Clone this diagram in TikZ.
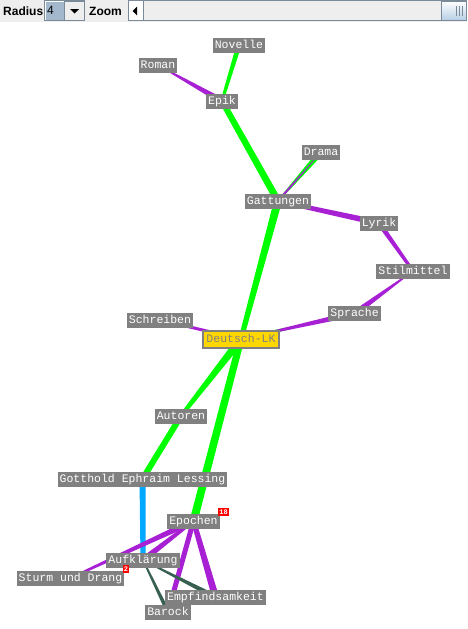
\documentclass[tikz,border=0pt]{standalone}
\usepackage{fontspec}
\usepackage{tikz}
\usetikzlibrary{calc,backgrounds}
\newfontfamily\labelfont{Liberation Mono}
\newfontfamily\uifont{Liberation Sans}
\definecolor{nodegray}{RGB}{128,128,128}
\definecolor{linkgreen}{RGB}{0,255,0}
\definecolor{linkpurple}{RGB}{168,32,212}
\definecolor{linkblue}{RGB}{0,168,255}
\definecolor{linkdark}{RGB}{56,96,80}
\definecolor{focusyellow}{RGB}{255,215,0}
\definecolor{barbg}{RGB}{238,238,238}
\definecolor{barline}{RGB}{122,138,153}
\definecolor{fieldblue}{RGB}{163,184,204}
\definecolor{thumbblue}{RGB}{184,207,229}

% tapered link: from, to, half width at from, half width at to, colour
\newcommand{\taper}[5]{%
  \fill[#5] ($(#1)!#3!90:(#2)$) -- ($(#2)!#4!-90:(#1)$) -- ($(#2)!#4!90:(#1)$) -- ($(#1)!#3!-90:(#2)$) -- cycle;}

\begin{document}
\begin{tikzpicture}[x=1pt, y=-1pt,
    topic/.style={fill=nodegray, text=white, font=\labelfont\fontsize{11.5}{12}\selectfont,
      inner xsep=2pt, inner ysep=2pt, text height=8.5pt, text depth=2.5pt},
    focus/.style={topic, fill=focusyellow, draw=nodegray, line width=2pt, text=nodegray, inner sep=3pt},
    hitbadge/.style={fill=red, text=white, font=\labelfont\bfseries\fontsize{7}{7}\selectfont,
      inner sep=1pt, minimum height=8pt},
    barfont/.style={font=\uifont\bfseries\fontsize{12}{14}\selectfont, anchor=west, inner sep=0pt}]
    \useasboundingbox (0,0) rectangle (467,629);

    % toolbar
    \fill[barbg] (0,0) rectangle (467,22);
    \node[barfont] (radiuslabel) at (3,11) {Radius};
    \draw[barline, fill=white] (44.5,0.5) rectangle (84.5,20.5);
    \fill[fieldblue] (45.5,1.5) rectangle (64.5,19.5);
    \node[barfont, font=\uifont\fontsize{12}{14}\selectfont] (radiusvalue) at (47,10.5) {4};
    \draw[barline, fill=barbg] (64.5,1) rectangle (84,20);
    \fill (70,9) -- (79,9) -- (74.5,13.5) -- cycle;
    \node[barfont] (zoomlabel) at (89,11) {Zoom};
    \draw[barline, fill=barbg] (128.5,0.5) rectangle (466.5,20.5);
    \draw[barline, fill=white] (128.5,0.5) rectangle (143,20.5);
    \fill (132.5,11) -- (137,6.5) -- (137,15.5) -- cycle;
    \draw[barline, top color=white, bottom color=thumbblue] (441.5,1) rectangle (466.5,20);
    \foreach \gx in {456,459,462}
        \draw[barline] (\gx,6) -- (\gx,16);

    % topics
    \node[topic] (novelle) at (239,45) {Novelle};
    \node[topic] (roman) at (158,65) {Roman};
    \node[topic] (epik) at (222,101) {Epik};
    \node[topic] (drama) at (321,152) {Drama};
    \node[topic] (gattungen) at (278,201) {Gattungen};
    \node[topic] (lyrik) at (379,223) {Lyrik};
    \node[topic] (stilmittel) at (413,271) {Stilmittel};
    \node[topic] (schreiben) at (160,320) {Schreiben};
    \node[topic] (sprache) at (354.5,313.5) {Sprache};
    \node[focus] (deutsch) at (241,339) {Deutsch-LK};
    \node[topic] (autoren) at (181,416) {Autoren};
    \node[topic] (lessing) at (142.5,479) {Gotthold Ephraim Lessing};
    \node[topic] (epochen) at (193.5,521) {Epochen};
    \node[topic] (aufklaerung) at (143,560) {Aufklärung};
    \node[topic] (sturm) at (70.5,578) {Sturm und Drang};
    \node[topic] (empfindsamkeit) at (215.5,597) {Empfindsamkeit};
    \node[topic] (barock) at (168,612) {Barock};
    \node[hitbadge] (epochenhits) at (223.5,512) {18};
    \node[hitbadge] (aufklaerunghits) at (126,569) {2};

    % links
    \begin{scope}[on background layer]
    \taper{novelle}{epik}{2.5pt}{1.5pt}{linkgreen}
    \taper{roman}{epik}{0.5pt}{3pt}{linkpurple}
    \taper{epik}{gattungen}{3pt}{3.5pt}{linkgreen}
    \taper{drama}{gattungen}{3pt}{0.8pt}{linkgreen}
    \taper{gattungen}{drama}{1.2pt}{0.2pt}{linkpurple}
    \taper{gattungen}{lyrik}{2pt}{3pt}{linkpurple}
    \taper{lyrik}{stilmittel}{2.5pt}{1.5pt}{linkpurple}
    \taper{stilmittel}{sprache}{0.5pt}{3pt}{linkpurple}
    \taper{gattungen}{deutsch}{4pt}{2.5pt}{linkgreen}
    \taper{deutsch}{sprache}{2pt}{0.3pt}{linkgreen}
    \taper{sprache}{deutsch}{3pt}{0.5pt}{linkpurple}
    \taper{schreiben}{deutsch}{1.5pt}{1.5pt}{linkpurple}
    \taper{deutsch}{autoren}{4pt}{2pt}{linkgreen}
    \taper{autoren}{lessing}{3pt}{3pt}{linkgreen}
    \taper{deutsch}{epochen}{3.5pt}{4pt}{linkgreen}
    \taper{lessing}{aufklaerung}{3pt}{2.5pt}{linkblue}
    \taper{epochen}{sturm}{3pt}{1pt}{linkpurple}
    \taper{epochen}{aufklaerung}{1.5pt}{3pt}{linkpurple}
    \taper{epochen}{barock}{2.5pt}{2.5pt}{linkpurple}
    \taper{epochen}{empfindsamkeit}{2.5pt}{3.5pt}{linkpurple}
    \taper{aufklaerung}{barock}{0.8pt}{2pt}{linkdark}
    \taper{aufklaerung}{empfindsamkeit}{0.6pt}{2.5pt}{linkdark}
    \end{scope}
\end{tikzpicture}
\end{document}
